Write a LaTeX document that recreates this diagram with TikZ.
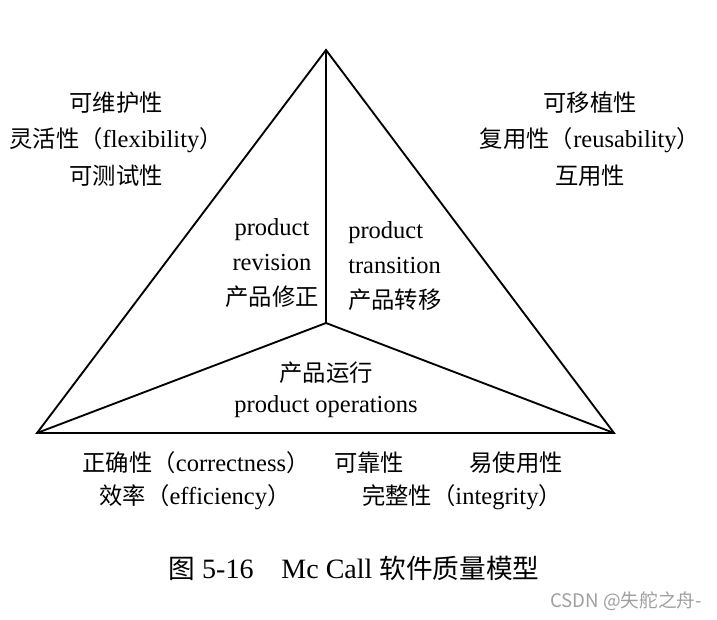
\documentclass[tikz,border=0pt]{standalone}
\usepackage{fontspec}
\setmainfont{Liberation Serif}[Scale=1.05]
\newfontfamily\cjk{Noto Sans CJK SC}
\newcommand{\zh}[1]{{\cjk #1}}
\usetikzlibrary{positioning}

\begin{document}
\begin{tikzpicture}[x=0.75pt, y=-0.75pt,
  lbl/.style={font=\fontsize{17.5}{27.5}\selectfont, inner sep=0pt, align=center},
  inlbl/.style={font=\fontsize{17.5}{26}\selectfont, inner sep=0pt},
  edge/.style={line width=1.4pt, line join=miter}]
  \useasboundingbox (0,0) rectangle (717,619);
  % Corners of the triangle and its centre
  \coordinate (top) at (326,50);
  \coordinate (bl) at (37,433);
  \coordinate (br) at (614,433);
  \coordinate (mid) at (326,323);
  \draw[edge] (top) -- (bl) -- (br) -- cycle;
  \draw[edge] (mid) -- (top);
  \draw[edge] (mid) -- (bl);
  \draw[edge] (mid) -- (br);
  % Qualities outside the triangle
  \node[lbl] (revq) at (116,139) {\zh{可维护性}\\ \zh{灵活性（}flexibility\zh{）}\\ \zh{可测试性}};
  \node[lbl] (tranq) at (590,139) {\zh{可移植性}\\ \zh{复用性（}reusability\zh{）}\\ \zh{互用性}};
  \node[lbl] (corr) at (196,463) {\zh{正确性（}correctness\zh{）}};
  \node[lbl] (reli) at (369,463) {\zh{可靠性}};
  \node[lbl] (usab) at (516,463) {\zh{易使用性}};
  \node[lbl] (effi) at (195,497) {\zh{效率（}efficiency\zh{）}};
  \node[lbl] (inte) at (462,497) {\zh{完整性（}integrity\zh{）}};
  % The three parts inside
  \node[inlbl, align=center] (rev) at (272,263) {product\\ revision\\ \zh{产品修正}};
  \node[inlbl, align=left, anchor=west] (tran) at (348,266) {product\\ transition\\ \zh{产品转移}};
  \node[inlbl, align=center, font=\fontsize{17.5}{23.5}\selectfont] (oper) at (326,390) {\zh{产品运行}\\ product operations};
  % Caption and mark
  \node[font=\fontsize{20}{22}\selectfont, inner sep=0pt] (cap) at (354,568) {\zh{图} 5-16\hspace{1em}Mc Call \zh{软件质量模型}};
  \node[font=\cjk\fontsize{14}{16}\selectfont, text=gray!75, inner sep=0pt] (mark) at (626,601) {CSDN @失舵之舟-};
\end{tikzpicture}
\end{document}
